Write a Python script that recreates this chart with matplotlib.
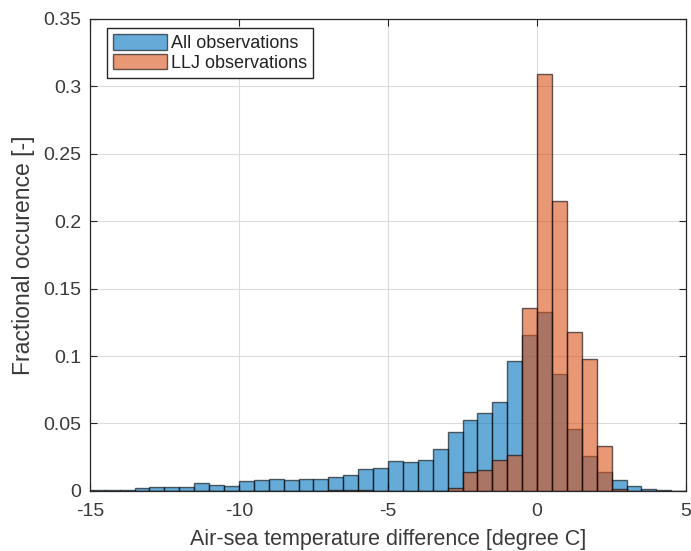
import numpy as np
import matplotlib
matplotlib.use("Agg")
import matplotlib.pyplot as plt

plt.rcParams['font.family'] = ['Liberation Sans', 'DejaVu Sans']
plt.rcParams['axes.unicode_minus'] = False

# bin edges, 0.5 degree wide
edges = np.arange(-15, 5.01, 0.5)

# fractional occurrence per bin
all_obs = [0.0005, 0.0005, 0.0008, 0.0020, 0.0027, 0.0032, 0.0027, 0.0057,
           0.0047, 0.0037, 0.0072, 0.0082, 0.0089, 0.0084, 0.0089, 0.0089,
           0.0106, 0.0119, 0.0163, 0.0168, 0.0225, 0.0213, 0.0230, 0.0309,
           0.0440, 0.0526, 0.0576, 0.0657, 0.0960, 0.1157, 0.1325, 0.0868,
           0.0460, 0.0262, 0.0143, 0.0082, 0.0039, 0.0015, 0.0007, 0.0003]
llj_obs = [0, 0, 0, 0, 0, 0, 0, 0,
           0, 0, 0, 0, 0, 0, 0, 0,
           0.0007, 0.0005, 0.0007, 0, 0, 0, 0, 0,
           0.0020, 0.0143, 0.0153, 0.0230, 0.0267, 0.1355, 0.3090, 0.2150,
           0.1177, 0.0979, 0.0336, 0.0013, 0, 0, 0, 0]

blue = (0, 0.447, 0.741)
orange = (0.85, 0.325, 0.098)
txt = '#3a3a3a'

fig = plt.figure(figsize=(6.91, 5.51), dpi=100)
ax = fig.add_axes([0.130, 0.109, 0.863, 0.857])

ax.hist(edges[:-1], bins=edges, weights=all_obs, color=blue, alpha=0.6,
        edgecolor='k', linewidth=1.0, label='All observations', zorder=2)
ax.hist(edges[:-1], bins=edges, weights=llj_obs, color=orange, alpha=0.6,
        edgecolor='k', linewidth=1.0, label='LLJ observations', zorder=3)

ax.set_xlim(-15, 5)
ax.set_ylim(0, 0.35)
ax.set_xticks([-15, -10, -5, 0, 5])
ax.set_yticks(np.arange(0, 0.351, 0.05))
ax.set_yticklabels(['0', '0.05', '0.1', '0.15', '0.2', '0.25', '0.3', '0.35'])
ax.grid(True, color='#dcdcdc', linewidth=0.8, zorder=0)
ax.set_axisbelow(True)
ax.tick_params(direction='in', length=5, labelsize=14, colors='#262626',
               labelcolor=txt, top=True, right=True)
ax.tick_params(axis='x', pad=9)
ax.tick_params(axis='y', pad=6)
for sp in ax.spines.values():
    sp.set_color('#262626')
    sp.set_linewidth(0.9)

ax.set_xlabel('Air-sea temperature difference [degree C]', fontsize=15.5,
              color=txt, labelpad=6)
ax.set_ylabel('Fractional occurence [-]', fontsize=16.5, color=txt, labelpad=6)

leg = ax.legend(loc='upper left', bbox_to_anchor=(0.0285, 0.981), fontsize=13,
                fancybox=False, framealpha=1, edgecolor='#262626',
                handlelength=3.0, handleheight=0.95, handletextpad=0.2,
                borderpad=0.35, labelspacing=0.1, borderaxespad=0)
for t in leg.get_texts():
    t.set_color('#222222')

fig.savefig('out.png', dpi=100)
